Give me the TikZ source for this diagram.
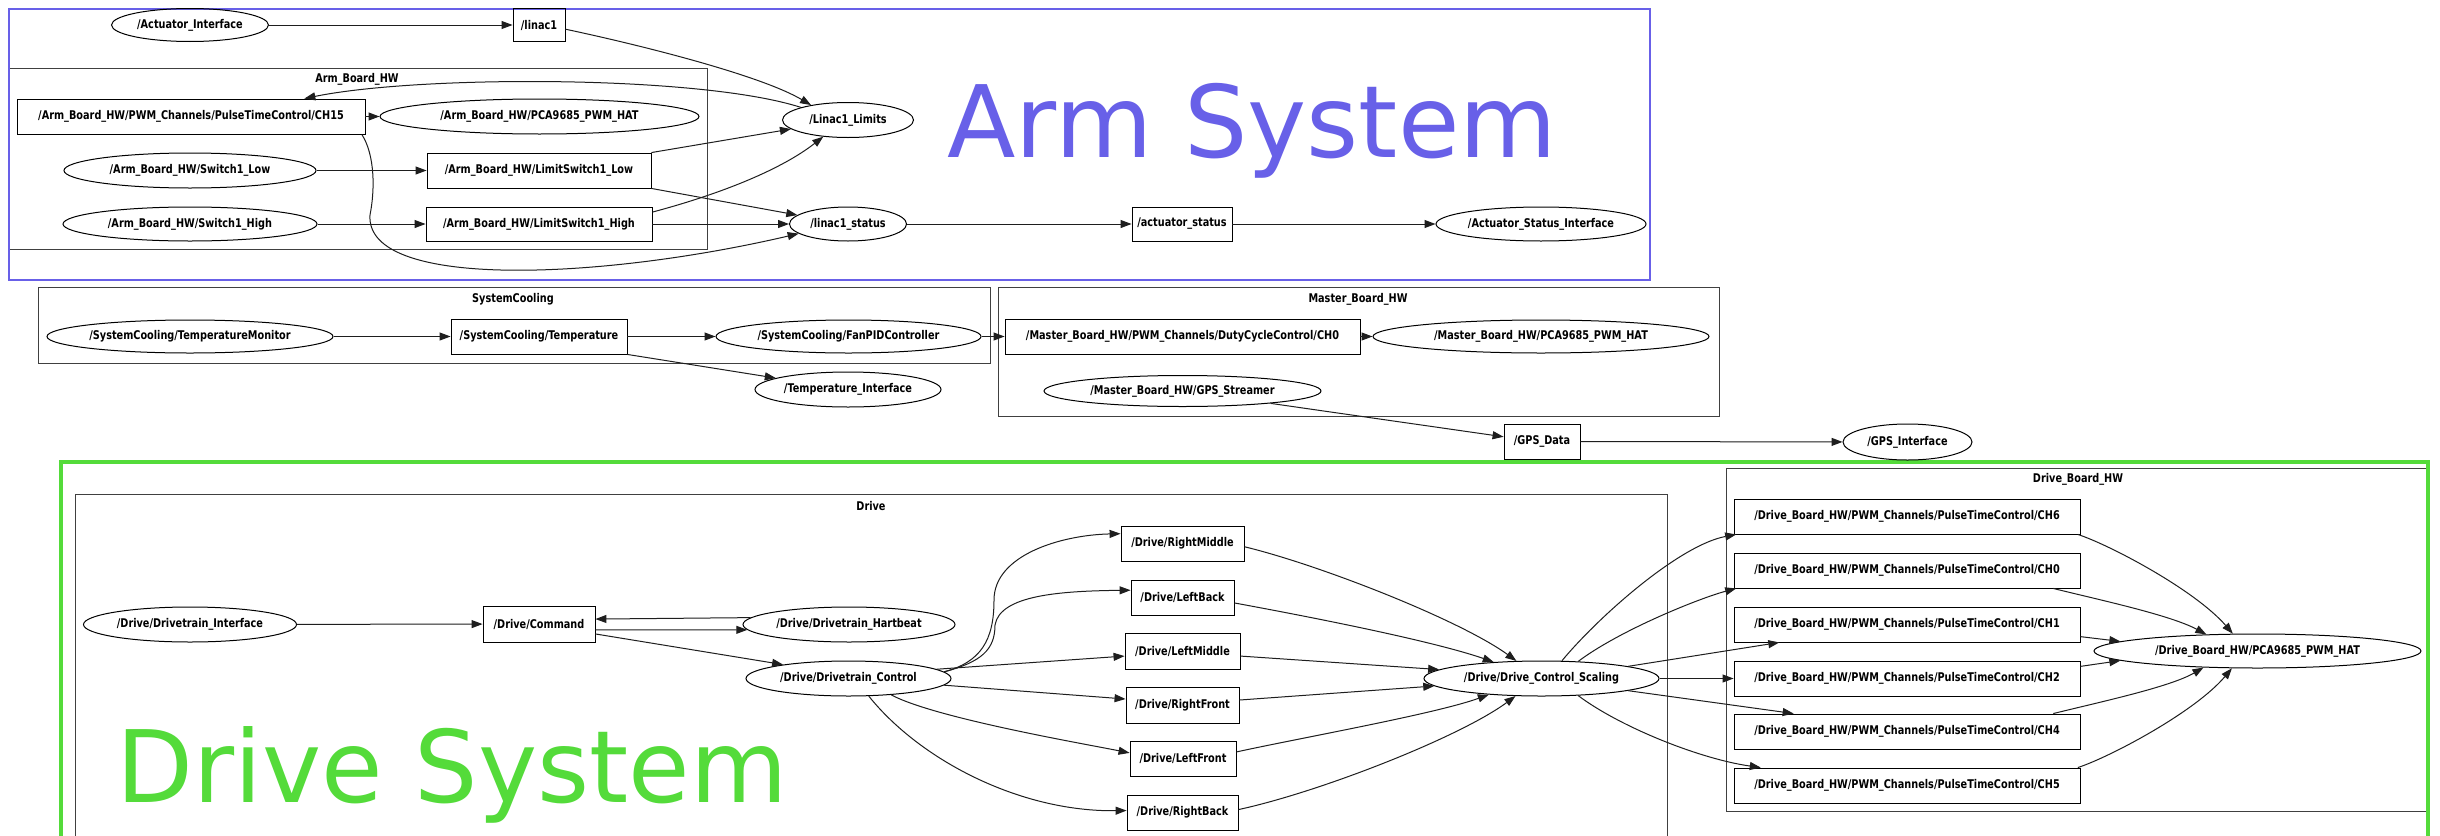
\documentclass[tikz,border=0pt]{standalone}
\usepackage{fontspec}
\usetikzlibrary{shapes.geometric,arrows.meta}
\newfontfamily\gvfont[FakeStretch=0.81]{DejaVu Sans}
\newfontfamily\bannerfont{DejaVu Sans}
\definecolor{armblue}{RGB}{104,96,232}
\definecolor{drivegreen}{RGB}{84,219,58}
\definecolor{clustergray}{RGB}{64,64,64}
\definecolor{edgeblack}{RGB}{30,30,30}
\tikzset{
  gvtext/.style={font=\gvfont\bfseries\fontsize{12}{14}\selectfont},
  topic/.style={gvtext, draw=black, line width=0.9pt, rectangle, inner sep=0pt, minimum height=35pt},
  proc/.style={gvtext, draw=black, line width=1pt, ellipse, inner sep=0pt, minimum height=34pt},
  cluster/.style={draw=clustergray, line width=1pt},
  clusterlabel/.style={gvtext, inner sep=0pt},
  edge/.style={draw=edgeblack, line width=1pt, -{Triangle[length=11pt,width=8pt]}},
  banner/.style={font=\bannerfont\fontsize{100}{110}\selectfont, inner sep=0pt, anchor=base west},
}
\begin{document}
\begin{tikzpicture}[x=1pt,y=-1pt]
\useasboundingbox (0,0) rectangle (2440,835);
\fill[white] (0,0) rectangle (2440,835);
\begin{scope}
\clip (0,0) rectangle (2440,835);

% ---- clusters ----
\draw[cluster] (9,68) rectangle (707,249);
\node[clusterlabel] (armboardlbl) at (357,79) {Arm\_Board\_HW};
\draw[cluster] (38,287) rectangle (990,363);
\node[clusterlabel] (coolinglbl) at (513,299) {SystemCooling};
\draw[cluster] (998,287) rectangle (1719,416);
\node[clusterlabel] (masterlbl) at (1358,299) {Master\_Board\_HW};
\draw[cluster] (75,494) rectangle (1667,870);
\node[clusterlabel] (drivelbl) at (871,506) {Drive};
\draw[cluster] (1726,468) rectangle (2429,811);
\node[clusterlabel] (driveboardlbl) at (2078,479) {Drive\_Board\_HW};

% ---- system frames ----
\draw[armblue, line width=2.6pt] (9,9) rectangle (1650,280);
\draw[drivegreen, line width=4pt] (60.5,462) rectangle (2428,880);
\node[banner, text=armblue] (armtitle) at (947,157) {Arm System};
\node[banner, text=drivegreen] (drivetitle) at (116,802) {Drive System};

% ---- arm system ----
\node[proc, minimum width=157pt, minimum height=33pt] (actif) at (190,25) {/Actuator\_Interface};
\node[topic, minimum width=52pt, minimum height=33pt] (linac1) at (539,25) {/linac1};
\node[topic, minimum width=348pt] (ch15) at (191,116.5) {/Arm\_Board\_HW/PWM\_Channels/PulseTimeControl/CH15};
\node[proc, minimum width=319pt, minimum height=35pt] (armhat) at (539.5,116.5) {/Arm\_Board\_HW/PCA9685\_PWM\_HAT};
\node[proc, minimum width=252pt, minimum height=35pt] (swlow) at (190,170.5) {/Arm\_Board\_HW/Switch1\_Low};
\node[topic, minimum width=224pt] (lslow) at (539,170.5) {/Arm\_Board\_HW/LimitSwitch1\_Low};
\node[proc, minimum width=254pt] (swhigh) at (190,224) {/Arm\_Board\_HW/Switch1\_High};
\node[topic, minimum width=226pt, minimum height=34pt] (lshigh) at (539,224) {/Arm\_Board\_HW/LimitSwitch1\_High};
\node[proc, minimum width=131pt, minimum height=35pt] (limits) at (848,120) {/Linac1\_Limits};
\node[proc, minimum width=117pt] (lstatus) at (848,224) {/linac1\_status};
\node[topic, minimum width=100pt, minimum height=34pt] (actstatus) at (1182,224) {/actuator\_status};
\node[proc, minimum width=210pt] (actstatif) at (1541,224) {/Actuator\_Status\_Interface};

% ---- cooling / master board ----
\node[proc, minimum width=286pt, minimum height=33pt] (tempmon) at (190,336.5) {/SystemCooling/TemperatureMonitor};
\node[topic, minimum width=176pt] (temp) at (539,336.5) {/SystemCooling/Temperature};
\node[proc, minimum width=265pt, minimum height=33pt] (fanpid) at (848.5,336.5) {/SystemCooling/FanPIDController};
\node[proc, minimum width=186pt, minimum height=35pt] (tempif) at (848,389.5) {/Temperature\_Interface};
\node[topic, minimum width=355pt] (masterch) at (1182.5,336.5) {/Master\_Board\_HW/PWM\_Channels/DutyCycleControl/CH0};
\node[proc, minimum width=336pt, minimum height=33pt] (masterhat) at (1541,336.5) {/Master\_Board\_HW/PCA9685\_PWM\_HAT};
\node[proc, minimum width=277pt, minimum height=31pt] (gpsstream) at (1182.5,391) {/Master\_Board\_HW/GPS\_Streamer};
\node[topic, minimum width=76pt] (gpsdata) at (1542,441.5) {/GPS\_Data};
\node[proc, minimum width=129pt, minimum height=36pt] (gpsif) at (1907.5,442) {/GPS\_Interface};

% ---- drive system ----
\node[proc, minimum width=213pt, minimum height=35pt] (dtif) at (190,624.5) {/Drive/Drivetrain\_Interface};
\node[topic, minimum width=112pt, minimum height=36pt] (command) at (539,624) {/Drive/Command};
\node[proc, minimum width=212pt, minimum height=35pt] (hartbeat) at (849,624.5) {/Drive/Drivetrain\_Hartbeat};
\node[proc, minimum width=205pt, minimum height=35pt] (dtcontrol) at (848.5,678.5) {/Drive/Drivetrain\_Control};
\node[topic, minimum width=123pt] (rmid) at (1182.5,543.5) {/Drive/RightMiddle};
\node[topic, minimum width=103pt] (lback) at (1182.5,597.5) {/Drive/LeftBack};
\node[topic, minimum width=115pt, minimum height=36pt] (lmid) at (1182.5,651) {/Drive/LeftMiddle};
\node[topic, minimum width=113pt, minimum height=36pt] (rfront) at (1182.5,705) {/Drive/RightFront};
\node[topic, minimum width=106pt] (lfront) at (1183,758.5) {/Drive/LeftFront};
\node[topic, minimum width=111pt] (rback) at (1182.5,812.5) {/Drive/RightBack};
\node[proc, minimum width=235pt, minimum height=35pt] (scaling) at (1541.5,678.5) {/Drive/Drive\_Control\_Scaling};
\node[topic, minimum width=346pt] (ch6) at (1907,516.5) {/Drive\_Board\_HW/PWM\_Channels/PulseTimeControl/CH6};
\node[topic, minimum width=346pt] (ch0) at (1907,570.5) {/Drive\_Board\_HW/PWM\_Channels/PulseTimeControl/CH0};
\node[topic, minimum width=346pt] (ch1) at (1907,624.5) {/Drive\_Board\_HW/PWM\_Channels/PulseTimeControl/CH1};
\node[topic, minimum width=346pt] (ch2) at (1907,678.5) {/Drive\_Board\_HW/PWM\_Channels/PulseTimeControl/CH2};
\node[topic, minimum width=346pt] (ch4) at (1907,731.5) {/Drive\_Board\_HW/PWM\_Channels/PulseTimeControl/CH4};
\node[topic, minimum width=346pt] (ch5) at (1907,785.5) {/Drive\_Board\_HW/PWM\_Channels/PulseTimeControl/CH5};
\node[proc, minimum width=327pt, minimum height=34pt] (drivehat) at (2257.5,651) {/Drive\_Board\_HW/PCA9685\_PWM\_HAT};

% ---- arm edges ----
\draw[edge] (actif) -- (linac1);
\draw[edge] (linac1.-9) .. controls (640,45) and (760,75) .. (limits.158);
\draw[edge] (limits.165) .. controls (700,75) and (420,75) .. (ch15.9);
\draw[edge] (ch15) -- (armhat);
\coordinate (ch15bend) at (370,215);
\draw[edge] (ch15.-6.1) .. controls (375,155) and (375,190) .. (ch15bend)
            .. controls (365,290) and (600,280) .. (lstatus.191);
\draw[edge] (swlow) -- (lslow);
\draw[edge] (swhigh) -- (lshigh);
\draw[edge] (lslow.north east) -- (limits.189);
\draw[edge] (lslow.south east) -- (lstatus.170);
\draw[edge] (lshigh.6.6) .. controls (713,196) and (778,172) .. (limits.214);
\draw[edge] (lshigh) -- (lstatus);
\draw[edge] (lstatus) -- (actstatus);
\draw[edge] (actstatus) -- (actstatif);

% ---- cooling / master edges ----
\draw[edge] (tempmon) -- (temp);
\draw[edge] (temp) -- (fanpid);
\draw[edge] (temp.south east) -- (tempif.171.5);
\draw[edge] (fanpid) -- (masterch);
\draw[edge] (masterch) -- (masterhat);
\draw[edge] (gpsstream.-8) -- (gpsdata.173);
\draw[edge] (gpsdata) -- (gpsif);

% ---- drive edges ----
\draw[edge] (dtif) -- (command);
\draw[edge] (hartbeat.176.2) -- (command.5.6);
\draw[edge] (command.-6.1) -- (hartbeat.183.8);
\draw[edge] (command.-10.1) -- (dtcontrol.168.8);

\coordinate (rmidbend) at (994,600);
\draw[edge] (dtcontrol.4) .. controls (981,662) and (994,640) .. (rmidbend)
            .. controls (994,555) and (1061,535) .. (rmid.171.2);
\coordinate (lbackbend) at (995,625);
\draw[edge] (dtcontrol.4) .. controls (981,662) and (995,650) .. (lbackbend)
            .. controls (1000,595) and (1061,591) .. (lback.172.8);
\draw[edge] (dtcontrol.6) -- (lmid.185.7);
\draw[edge] (dtcontrol.-4) -- (rfront.174.9);
\draw[edge] (dtcontrol.-21.7) .. controls (935,718) and (1080,743) .. (lfront.174.1);
\draw[edge] (dtcontrol.-41.4) .. controls (920,760) and (1020,812) .. (rback.178.5);

\draw[edge] (rmid.-3.3) .. controls (1320,565) and (1460,620) .. (scaling.145.5);
\draw[edge] (lback.-6.1) .. controls (1300,615) and (1430,640) .. (scaling.161.6);
\draw[edge] (lmid.-5) -- (scaling.175.35);
\draw[edge] (rfront.5.1) -- (scaling.184.1);
\draw[edge] (lfront.7) .. controls (1300,738) and (1435,714) .. (scaling.197.4);
\draw[edge] (rback.3.6) .. controls (1320,792) and (1460,737) .. (scaling.214.5);

\draw[edge] (scaling.41.5) .. controls (1600,615) and (1680,545) .. (ch6.186.44);
\draw[edge] (scaling.25.9) .. controls (1620,630) and (1700,598) .. (ch0.186.8);
\draw[edge] (scaling.8.2) -- (ch1.188.2);
\draw[edge] (scaling) -- (ch2);
\draw[edge] (scaling.-8.2) -- (ch4.171.8);
\draw[edge] (scaling.-25.9) .. controls (1620,727) and (1700,759) .. (ch5.173.2);

\draw[edge] (ch6.-6.9) .. controls (2110,545) and (2195,590) .. (drivehat.145.6);
\draw[edge] (ch0.-7.7) .. controls (2100,600) and (2170,615) .. (drivehat.162.25);
\draw[edge] (ch1.-4.1) -- (drivehat.176);
\draw[edge] (ch2.4.8) -- (drivehat.184);
\draw[edge] (ch4.7.7) .. controls (2100,702) and (2170,687) .. (drivehat.197.75);
\draw[edge] (ch5.6.9) .. controls (2110,757) and (2195,712) .. (drivehat.214.4);
\end{scope}
\end{tikzpicture}
\end{document}
